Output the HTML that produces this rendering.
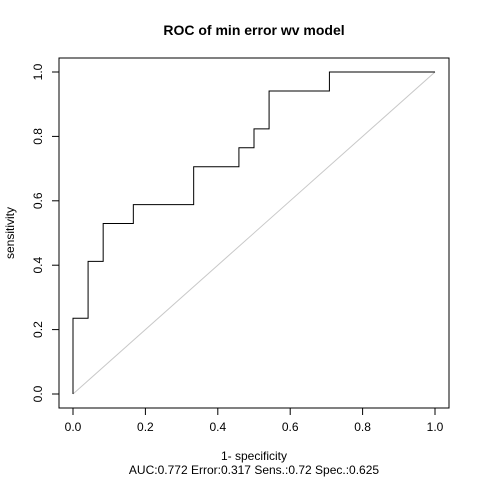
<!DOCTYPE html>
<html><head><meta charset="utf-8"><style>
body{margin:0;background:#fff;}
svg text{font-family:"Liberation Sans",Arial,sans-serif;fill:#000;}
</style></head><body>
<svg width="480" height="480">
<rect x="0" y="0" width="480" height="480" fill="#fff"/>
<text x="254" y="35" text-anchor="middle" font-size="14" font-weight="bold">ROC of min error wv model</text>
<rect x="59" y="58" width="390" height="350" fill="none" stroke="#000" stroke-width="1"/>
<g id="xaxis"></g>
<g id="yaxis"></g>
<line x1="73" y1="394" x2="435" y2="72" stroke="#c8c8c8"/>
<path id="roc" fill="none" stroke="#000" stroke-width="1"/>
<text x="254" y="460" text-anchor="middle" font-size="12">1- specificity</text>
<text x="254" y="474" text-anchor="middle" font-size="12">AUC:0.772 Error:0.317 Sens.:0.72 Spec.:0.625</text>
<text transform="translate(14,233) rotate(-90)" text-anchor="middle" font-size="12">sensitivity</text>
</svg>
<script>
const fpr=[0,0,1/24,1/24,2/24,2/24,4/24,4/24,8/24,8/24,11/24,11/24,12/24,12/24,13/24,13/24,17/24,17/24,1];
const tpr=[0,4/17,4/17,7/17,7/17,9/17,9/17,10/17,10/17,12/17,12/17,13/17,13/17,14/17,14/17,16/17,16/17,1,1];
const ticks=[0,0.2,0.4,0.6,0.8,1.0];
const tickLabels=["0.0","0.2","0.4","0.6","0.8","1.0"];
const X=v=>73+v*362, Y=v=>394-v*322;
const ns="http://www.w3.org/2000/svg";
document.getElementById('roc').setAttribute('d',fpr.map((v,i)=>(i?'L':'M')+X(v)+','+Y(tpr[i])).join(' '));
const xa=document.getElementById('xaxis'),ya=document.getElementById('yaxis');
function mk(t,a,p){const e=document.createElementNS(ns,t);for(const k in a)e.setAttribute(k,a[k]);p.appendChild(e);return e;}
mk('line',{x1:X(0),x2:X(1),y1:408,y2:408,stroke:'#000'},xa);
mk('line',{x1:59,x2:59,y1:Y(0),y2:Y(1),stroke:'#000'},ya);
ticks.forEach((t,i)=>{
 const tk=mk('line',{x1:X(t),x2:X(t),y1:408,y2:415,stroke:'#000'},xa);
 
 
 const tx=mk('text',{x:X(t),y:431,'text-anchor':'middle','font-size':12},xa);tx.textContent=tickLabels[i];
 
 
 const tk2=mk('line',{x1:52,x2:59,y1:Y(t),y2:Y(t),stroke:'#000'},ya);
 
 
 const ty=mk('text',{transform:`translate(42,${Y(t)}) rotate(-90)`,'text-anchor':'middle','font-size':12},ya);ty.textContent=tickLabels[i];
 
 
});
</script>
</body></html>
